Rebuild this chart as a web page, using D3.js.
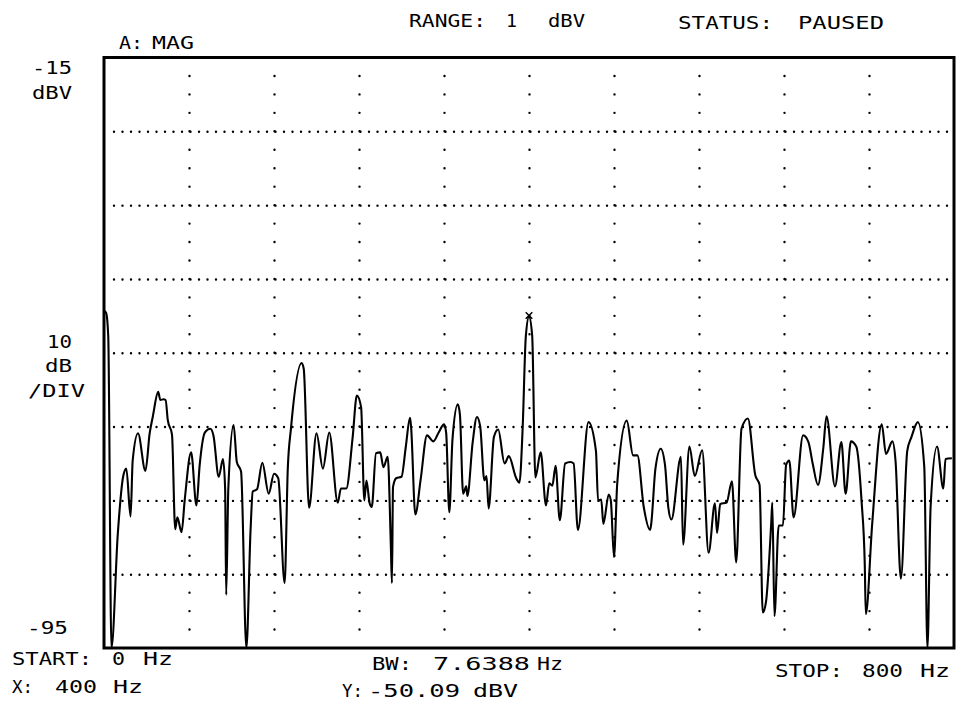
<!DOCTYPE html>
<meta charset='utf-8'>
<style>
    html, body {
        margin: 0;
        background: white;
    }

    .grid line {
        stroke: black;
        stroke-width: 2.4;
        stroke-linecap: round;
    }

    .grid path {
        display: none;
    }

    .trace {
        fill: none;
        stroke: black;
        stroke-width: 2.1;
        stroke-linejoin: round;
    }

    .frame {
        fill: none;
        stroke: black;
        stroke-width: 3;
    }

    text {
        font-family: 'DejaVu Sans Mono', monospace;
        font-size: 18px;
        fill: black;
    }
</style>
<title>A: MAG spectrum</title>
<body>

<script src='https://d3js.org/d3.v7.min.js'></script>
<script>

	// spectrum trace (Hz, dBV)
	let freqHz = [
		0, 2, 4, 7, 13, 18, 21, 25, 27, 32, 39, 43, 46, 51, 53, 56, 58, 60, 64, 67,
		69, 73, 76, 82, 87, 90, 95, 100, 103, 108, 112, 114, 115, 117, 122, 125, 129, 134, 138, 140,
		144, 149, 155, 160, 164, 170, 173, 176, 186, 188, 193, 200, 206, 212, 220, 223, 228, 234, 238, 242,
		245, 247, 250, 252, 256, 260, 263, 267, 270, 271, 272, 275, 280, 284, 288, 289, 293, 298, 304, 310,
		315, 320, 322, 325, 328, 333, 335, 338, 341, 342, 347, 351, 354, 358, 360, 362, 367, 371, 377, 381,
		388, 391, 394, 397, 400, 403, 406, 411, 416, 419, 422, 425, 429, 434, 439, 442, 446, 456, 463, 465,
		468, 470, 475, 477, 480, 483, 492, 498, 502, 508, 514, 515, 519, 524, 528, 531, 534, 543, 545, 551,
		556, 563, 569, 575, 577, 580, 586, 591, 595, 600, 606, 613, 617, 620, 623, 628, 629, 631, 635, 639,
		642, 645, 649, 658, 663, 667, 672, 677, 680, 688, 694, 698, 703, 708, 713, 716, 717, 723, 732, 736,
		742, 745, 750, 756, 760, 766, 772, 775, 778, 784, 790, 792, 798
	];
	let magDbv = [
		-49.3, -49.6, -52.8, -95, -79.5, -71.8, -70.7, -77.2, -69.6, -65.9, -71.0, -65.9, -63.6, -60.3, -61.4, -61.3, -61.4, -64.1, -66.1, -78.9,
		-77.3, -79.3, -74.9, -68.5, -75.7, -70.3, -65.8, -65.3, -66.2, -71.8, -69.4, -73.4, -87.8, -73.4, -64.8, -69.8, -71.1, -95, -78.8, -73.8,
		-73.5, -69.9, -74.1, -71.4, -72.0, -86.2, -70.6, -65.2, -56.4, -57.2, -76.0, -65.9, -70.7, -65.8, -75.3, -73.4, -73.4, -66.5, -60.8, -62.4,
		-75.0, -72.3, -75.4, -75.9, -68.6, -68.5, -70.5, -69.1, -81.3, -86.2, -73.2, -72.0, -71.8, -67.8, -63.8, -65.0, -76.9, -72.2, -66.2, -67.0,
		-65.8, -64.7, -65.8, -76.6, -66.7, -62.0, -63.4, -74.1, -73.1, -74.4, -67.1, -63.7, -64.9, -72.3, -71.7, -76.1, -66.4, -65.4, -70.0, -69.0,
		-72.0, -72.6, -65.3, -52.8, -50.1, -52.7, -71.9, -68.5, -75.7, -72.7, -73.0, -70.3, -77.7, -70.0, -69.8, -70.0, -79.0, -64.4, -68.3, -75.0,
		-74.9, -78.2, -74.2, -75.0, -82.7, -72.8, -64.2, -68.9, -68.9, -75.9, -79.0, -78.2, -70.7, -68.0, -70.2, -75.8, -77.6, -69.1, -81.0, -67.7,
		-71.7, -68.2, -82.1, -75.4, -79.4, -75.5, -75.3, -72.4, -83.4, -65.3, -63.9, -71.6, -72.9, -90.2, -88.8, -78.0, -75.3, -90.7, -78.4, -78.4,
		-70.2, -69.6, -77.3, -66.2, -67.1, -70.0, -72.9, -67.9, -63.6, -73.1, -67.1, -74.1, -67.0, -67.7, -75.1, -83.6, -90.4, -78.2, -64.7, -68.7,
		-67.0, -69.7, -85.6, -68.3, -66.4, -64.4, -70.4, -95, -75.8, -67.7, -73.4, -69.4, -69.3
	];

	let markerHz = 400, markerDbv = -50.09;

	let xGridHz = [80, 160, 240, 320, 400, 480, 560, 640, 720];
	let yGridDbv = [-25, -35, -45, -55, -65, -75, -85];

	// label text pieces: [text, x, baseline, width]
	let headerLabels = [
		['RANGE:', 409, 27, 77], ['1', 506, 27, 11], ['dBV', 548, 27, 37],
		['STATUS:', 678, 29, 95], ['PAUSED', 798, 29, 86],
		['A:', 119, 49, 24], ['MAG', 152, 49, 42]
	];
	let scaleLabels = [
		['-15', 32, 74, 40], ['dBV', 32, 99, 40],
		['10', 47, 348, 25], ['dB', 45, 372, 27], ['/DIV', 28, 397, 57],
		['-95', 27, 634, 41]
	];
	let footerLabels = [
		['START:', 12, 665, 80], ['0', 112, 665, 13], ['Hz', 143, 665, 30],
		['X:', 12, 693, 21], ['400', 55, 693, 42], ['Hz', 113, 693, 30],
		['BW:', 372, 670, 40], ['7.6388', 433, 670, 97], ['Hz', 537, 670, 26],
		['Y:', 342, 697, 21], ['-50.09', 368, 697, 92], ['dBV', 473, 697, 45],
		['STOP:', 775, 677, 68], ['800', 862, 677, 41], ['Hz', 920, 677, 30]
	];

	let plotLeft = 104, plotRight = 954, plotTop = 57.5, plotBottom = 648;

	let x = d3.scaleLinear()
		.domain([0, 800])
		.range([plotLeft, plotRight]);

	let y = d3.scaleLinear()
		.domain([-95, -15])
		.range([plotBottom, plotTop]);

	let svg = d3.select('body').append('svg')
		.attr('width', 956)
		.attr('height', 701);

	// dotted grid
	let hDot = (plotRight - plotLeft) / 100;
	let vDot = (plotBottom - plotTop) / 32;

	svg.append('g')
		.attr('class', 'grid')
		.attr('transform', 'translate(' + plotLeft + ',0)')
		.call(d3.axisLeft(y).tickValues(yGridDbv).tickSize(0).tickFormat(''))
		.selectAll('.tick line')
		.attr('x1', 10)
		.attr('x2', plotRight - plotLeft)
		.style('stroke-dasharray', '0,' + hDot);

	svg.append('g')
		.attr('class', 'grid')
		.attr('transform', 'translate(0,' + plotBottom + ')')
		.call(d3.axisBottom(x).tickValues(xGridHz).tickSize(0).tickFormat(''))
		.selectAll('.tick line')
		.attr('y1', -vDot)
		.attr('y2', -(plotBottom - plotTop - vDot / 2))
		.style('stroke-dasharray', '0,' + vDot);

	svg.append('defs').append('clipPath')
		.attr('id', 'plot')
		.append('rect')
		.attr('x', plotLeft)
		.attr('y', plotTop)
		.attr('width', plotRight - plotLeft)
		.attr('height', plotBottom - plotTop);

	let points = freqHz.map(function (f, i) {
		return [f, magDbv[i]];
	});

	let line = d3.line()
		.curve(d3.curveMonotoneX)
		.x(function (d) { return x(d[0]); })
		.y(function (d) { return y(d[1]); });

	svg.append('path')
		.datum(points)
		.attr('class', 'trace')
		.attr('clip-path', 'url(#plot)')
		.attr('d', line);

	svg.append('path')
		.attr('d', d3.symbol(d3.symbolTimes, 30)())
		.attr('transform', 'translate(' + x(markerHz) + ',' + (y(markerDbv) - 1) + ')')
		.attr('fill', 'none')
		.attr('stroke', 'black')
		.attr('stroke-width', 1.5);

	svg.append('rect')
		.attr('class', 'frame')
		.attr('x', plotLeft)
		.attr('y', plotTop)
		.attr('width', plotRight - plotLeft)
		.attr('height', plotBottom - plotTop);

	svg.selectAll('text.label')
		.data(headerLabels.concat(scaleLabels, footerLabels))
		.enter().append('text')
		.attr('class', 'label')
		.attr('x', function (d) { return d[1]; })
		.attr('y', function (d) { return d[2]; })
		.attr('textLength', function (d) { return d[3]; })
		.attr('lengthAdjust', 'spacingAndGlyphs')
		.text(function (d) { return d[0]; });

</script>
</body>
